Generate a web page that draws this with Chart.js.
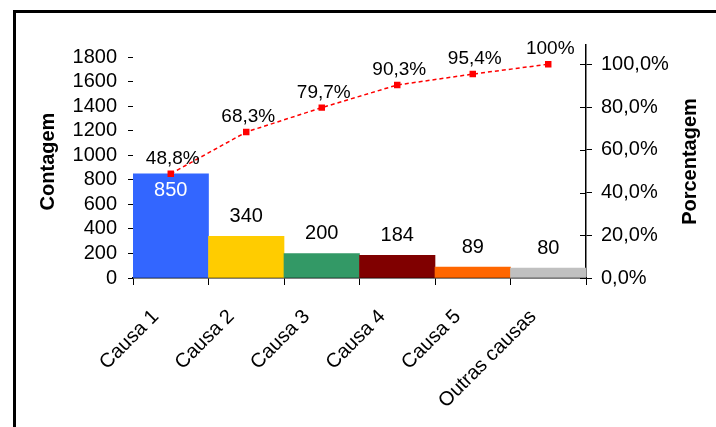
<!DOCTYPE html>
<html lang="pt">
<head>
<meta charset="UTF-8" />
<title>Diagrama de Pareto</title>
<script src="https://cdn.jsdelivr.net/npm/chart.js"></script>
<style>
  html, body { margin: 0; padding: 0; background: #fff; }
</style>
</head>
<body>
<canvas id="pareto" width="716" height="427"></canvas>
<script>
// dados do diagrama
const causas = ['Causa 1', 'Causa 2', 'Causa 3', 'Causa 4', 'Causa 5', 'Outras causas'];
const contagem = [850, 340, 200, 184, 89, 80];
const acumulado = [48.8, 68.3, 79.7, 90.3, 95.4, 100];
const cores = ['#3366FF', '#FFCC00', '#339966', '#800000', '#FF6600', '#C0C0C0'];
const escalaContagem = 1900;

// 100% no eixo da direita fica na altura do total de ocorrencias
const total = contagem.reduce((a, b) => a + b, 0);
const escalaPct = escalaContagem / total * 100;

const FAMILIA = '"Liberation Sans", Arial, sans-serif';
Chart.defaults.font.family = FAMILIA;
Chart.defaults.font.size = 20;
Chart.defaults.color = '#000';

function pctTexto(v) {
    return v === 100 ? '100%' : v.toFixed(1).replace('.', ',') + '%';
}

const extras = {
    id: 'extras',
    beforeDraw(chart) {
        const c = chart.ctx;
        c.save();
        c.fillStyle = '#fff';
        c.fillRect(0, 0, chart.width, chart.height);
        // moldura (so aparecem as bordas de cima e da esquerda)
        c.fillStyle = '#000';
        c.fillRect(13, 10, chart.width, 3);
        c.fillRect(13, 10, 3, chart.height);
        c.restore();
    },
    afterDraw(chart) {
        const c = chart.ctx;
        const area = chart.chartArea;
        c.save();

        // tracinhos do eixo da direita cruzando a linha
        const y1 = chart.scales.y1;
        c.strokeStyle = '#000';
        c.lineWidth = 1;
        y1.ticks.forEach(t => {
            const y = Math.round(y1.getPixelForValue(t.value)) + 0.5;
            c.beginPath();
            c.moveTo(area.right - 6, y);
            c.lineTo(area.right, y);
            c.stroke();
        });

        // rotulos das barras
        c.font = '20px ' + FAMILIA;
        c.textAlign = 'center';
        c.textBaseline = 'middle';
        chart.getDatasetMeta(0).data.forEach((bar, i) => {
            if (i === 0) {
                // o primeiro ponto acumulado fica em cima da barra, entao o valor vai dentro
                c.fillStyle = '#fff';
                c.fillText(contagem[i], bar.x, bar.y + 17);
            } else {
                c.fillStyle = '#000';
                c.fillText(contagem[i], bar.x, bar.y - 20);
            }
        });

        // rotulos do percentual acumulado
        c.font = '19px ' + FAMILIA;
        c.fillStyle = '#000';
        chart.getDatasetMeta(1).data.forEach((pt, i) => {
            c.fillText(pctTexto(acumulado[i]), pt.x + 2, pt.y - 15);
        });

        // titulos dos eixos, ambos lidos de baixo para cima
        c.font = 'bold 20px ' + FAMILIA;
        const meio = (area.top + area.bottom) / 2;
        [['Contagem', 48], ['Porcentagem', 690]].forEach(([txt, x]) => {
            c.save();
            c.translate(x, meio);
            c.rotate(-Math.PI / 2);
            c.fillText(txt, 0, 0);
            c.restore();
        });
        c.restore();
    }
};

new Chart(document.getElementById('pareto'), {
    data: {
        labels: causas,
        datasets: [{
            type: 'bar',
            data: contagem,
            backgroundColor: cores,
            borderWidth: 0,
            barPercentage: 1,
            categoryPercentage: 1,
            yAxisID: 'y',
            order: 2
        }, {
            type: 'line',
            data: acumulado,
            borderColor: '#FF0000',
            borderWidth: 1.5,
            borderDash: [4, 3],
            pointStyle: 'rect',
            pointRadius: 3.5,
            pointBackgroundColor: '#FF0000',
            pointBorderColor: '#FF0000',
            tension: 0,
            yAxisID: 'y1',
            order: 1
        }]
    },
    options: {
        responsive: false,
        animation: false,
        layout: { padding: { top: 45, left: 0, right: 0, bottom: 0 } },
        plugins: {
            legend: { display: false },
            tooltip: { enabled: false }
        },
        scales: {
            x: {
                offset: true,
                grid: { offset: true, drawOnChartArea: false, tickLength: 7, color: '#000' },
                border: { color: '#000', width: 1.5 },
                ticks: { minRotation: 45, maxRotation: 45, autoSkip: false, labelOffset: -15, padding: 20 },
                afterFit: s => { s.height = 427 - 278; }
            },
            y: {
                position: 'left',
                min: 0,
                max: escalaContagem,
                ticks: { stepSize: 200, includeBounds: false, autoSkip: false, padding: 11, callback: v => String(v) },
                grid: { drawOnChartArea: false, tickLength: 5, color: '#000' },
                border: { display: false },
                afterFit: s => { s.width = 133; }
            },
            y1: {
                position: 'right',
                min: 0,
                max: escalaPct,
                ticks: {
                    stepSize: 20,
                    includeBounds: false,
                    autoSkip: false,
                    padding: 9,
                    callback: v => v.toFixed(1).replace('.', ',') + '%'
                },
                grid: { drawOnChartArea: false, tickLength: 6, color: '#000' },
                border: { color: '#000', width: 1.5 },
                afterFit: s => { s.width = 716 - 586; }
            }
        }
    },
    plugins: [extras]
});
</script>
</body>
</html>
